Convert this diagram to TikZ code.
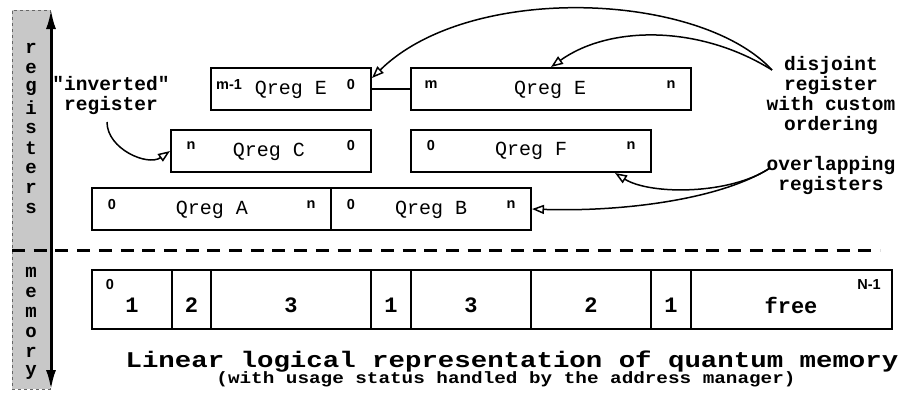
\documentclass[tikz,border=0pt]{standalone}
\usepackage{fontspec}
\usepackage{graphicx}
\newfontfamily\monof{Liberation Mono}
\newfontfamily\sansf{Liberation Sans}
\usetikzlibrary{arrows.meta}
\definecolor{barg}{RGB}{200,200,200}
\begin{document}
\begin{tikzpicture}[x=1pt,y=-1pt,
  box/.style={draw, line width=2pt, inner sep=0, minimum height=42pt},
  cell/.style={draw, line width=2pt, inner sep=0, minimum height=59pt},
  qlab/.style={font=\monof\fontsize{20}{20}\selectfont, inner sep=0},
  idx/.style={font=\sansf\bfseries\fontsize{14.5}{14.5}\selectfont, inner sep=0},
  note/.style={font=\monof\bfseries\fontsize{19.5}{20}\selectfont, align=center, inner sep=0},
  vlet/.style={font=\monof\bfseries\fontsize{19}{19}\selectfont, inner sep=0},
  memnum/.style={font=\monof\bfseries\fontsize{22}{22}\selectfont, inner sep=0},
  conn/.style={line width=1.5pt, -{Triangle[open, length=12pt, width=9pt]}},
]
\useasboundingbox (0,0) rectangle (907,394);
% side bar
\node[fill=barg, draw=black!60, dashed, line width=0.8pt, minimum width=38pt, minimum height=379pt, inner sep=0] (bar) at (31,199.5) {};
\foreach \l [count=\i from 0] in {r,e,g,i,s,t,e,r,s}
  \node[vlet] (rl\i) at (31,{48+20*\i}) {\l};
\foreach \l [count=\i from 0] in {m,e,m,o,r,y}
  \node[vlet] (ml\i) at (31,{272+20*\i}) {\l};
% dashed separator
\coordinate (dl) at (12,250);
\coordinate (dr) at (880,250);
\draw[line width=3pt, dash pattern=on 13pt off 8.7pt] (dl) -- (dr);
% vertical arrow
\coordinate (vtop) at (51,9);
\coordinate (vbot) at (51,390);
\draw[line width=3pt, {Latex[length=20pt,width=10pt]}-{Latex[length=20pt,width=10pt]}] (vtop) -- (vbot);
% register boxes
\node[box, minimum width=160pt] (E1) at (291,89) {};
\node[box, minimum width=280pt] (E2) at (551,89) {};
\node[box, minimum width=200pt] (C) at (271,151) {};
\node[box, minimum width=240pt] (F) at (531,151) {};
\node[box, minimum width=239pt] (A) at (211.5,209) {};
\node[box, minimum width=200pt] (B) at (431,209) {};
\draw[line width=2pt] (E1.east) -- (E2.west);
% register labels
\node[qlab] (tE1) at (291,90) {Qreg E};
\node[qlab] (tE2) at (550,90) {Qreg E};
\node[qlab] (tC) at (269,152) {Qreg C};
\node[qlab] (tF) at (531,151) {Qreg F};
\node[qlab] (tA) at (212,210) {Qreg A};
\node[qlab] (tB) at (431,210) {Qreg B};
\node[idx] (iE1a) at (229,85) {m-1};
\node[idx] (iE1b) at (351,85) {0};
\node[idx] (iE2a) at (431,85) {m};
\node[idx] (iE2b) at (671,85) {n};
\node[idx] (iCa) at (191,146) {n};
\node[idx] (iCb) at (351,146) {0};
\node[idx] (iFa) at (431,146) {0};
\node[idx] (iFb) at (631,146) {n};
\node[idx] (iAa) at (112,205) {0};
\node[idx] (iAb) at (311,205) {n};
\node[idx] (iBa) at (351,205) {0};
\node[idx] (iBb) at (511,205) {n};
% memory cells
\node[cell, minimum width=80pt] (m1) at (132,299.5) {};
\node[cell, minimum width=39pt] (m2) at (191.5,299.5) {};
\node[cell, minimum width=160pt] (m3) at (291,299.5) {};
\node[cell, minimum width=40pt] (m4) at (391,299.5) {};
\node[cell, minimum width=120pt] (m5) at (471,299.5) {};
\node[cell, minimum width=120pt] (m6) at (591,299.5) {};
\node[cell, minimum width=40pt] (m7) at (671,299.5) {};
\node[cell, minimum width=201pt] (m8) at (791.5,299.5) {};
\node[memnum] (n1) at (132,305) {1};
\node[memnum] (n2) at (191.5,305) {2};
\node[memnum] (n3) at (291,305) {3};
\node[memnum] (n4) at (391,305) {1};
\node[memnum] (n5) at (471,305) {3};
\node[memnum] (n6) at (591,305) {2};
\node[memnum] (n7) at (671,305) {1};
\node[memnum] (n8) at (791,305) {free};
\node[idx] (z0) at (110,285) {0};
\node[idx] (zN) at (869,285) {N-1};
% titles
\node[font=\monof\bfseries\fontsize{27.4}{28}\selectfont, inner sep=0, anchor=base] (title) at (512,367) {\scalebox{1}[0.82]{Linear logical representation of quantum memory}};
\node[font=\monof\bfseries\fontsize{19.3}{20}\selectfont, inner sep=0, anchor=base] (sub) at (506,383) {\scalebox{1}[0.85]{(with usage status handled by the address manager)}};
% annotations
\node[note] (inv) at (111,95) {"inverted"\\register};
\node[note] (dis) at (831,95) {disjoint\\register\\with custom\\ordering};
\node[note] (ovl) at (831,175) {overlapping\\registers};
\coordinate (invs) at (107,122);
\coordinate (diss) at (772,70);
\coordinate (ovls) at (770,168);
\draw[conn] (invs) to[out=-90, in=215] (C.west);
\draw[conn] (diss) .. controls (700,-8) and (470,-18) .. ([yshift=11pt]E1.east);
\draw[conn] (diss) .. controls (700,25) and (610,25) .. (E2.north);
\draw[conn] (ovls) .. controls (730,195) and (650,195) .. ([xshift=84pt]F.south);
\draw[conn] (ovls) .. controls (720,200) and (620,212) .. (B.east);
\end{tikzpicture}
\end{document}
